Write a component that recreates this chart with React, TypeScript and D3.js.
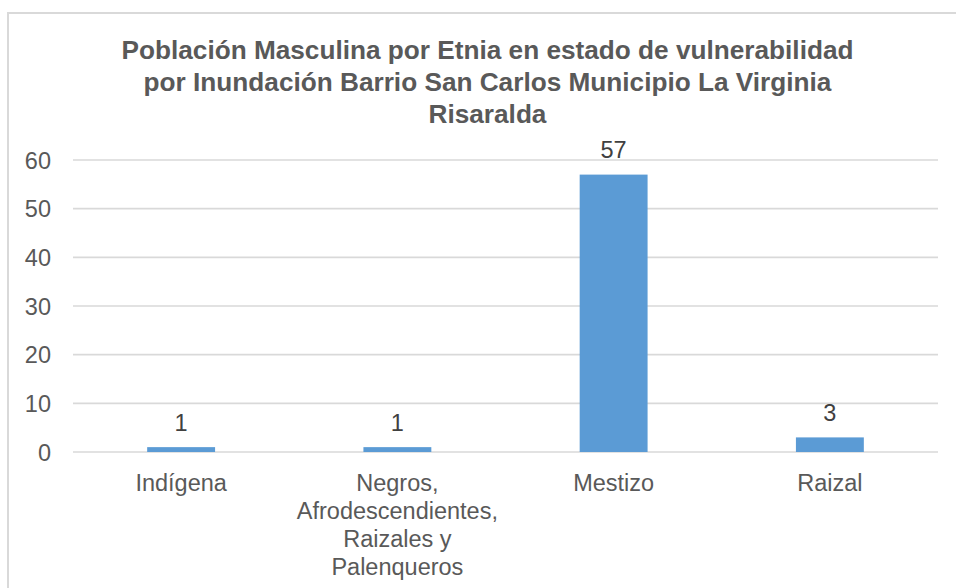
import React from "react";
import * as d3 from "d3";

const titleLines = [
  "Población Masculina por Etnia en estado de vulnerabilidad",
  "por Inundación Barrio San Carlos Municipio La Virginia",
  "Risaralda",
];
const categories = [
  "Indígena",
  "Negros, Afrodescendientes, Raizales y Palenqueros",
  "Mestizo",
  "Raizal",
];
const values = [1, 1, 57, 3];
const yTicks = [0, 10, 20, 30, 40, 50, 60];

const W = 956;
const H = 588;
const FONT = "'Liberation Sans', Arial, sans-serif";
const AXIS_SIZE = 23.5;
const TEXT = "#595959";

function wrap(text: string, maxW: number, font: string): string[] {
  const canvas = document.createElement("canvas");
  const ctx = canvas.getContext("2d")!;
  ctx.font = font;
  const words = text.split(" ");
  const lines: string[] = [];
  let cur = "";
  for (const w of words) {
    const test = cur ? cur + " " + w : w;
    if (ctx.measureText(test).width > maxW && cur) {
      lines.push(cur);
      cur = w;
    } else cur = test;
  }
  if (cur) lines.push(cur);
  return lines;
}

export default function App() {
  const left = 73;
  const right = 938;
  const top = 160;
  const bottom = 452;
  const x = d3.scaleBand<string>().domain(categories).range([left, right]).paddingInner(0.686).paddingOuter(0.343);
  const band = d3.scaleBand<string>().domain(categories).range([left, right]);
  const y = d3.scaleLinear().domain([0, 60]).range([bottom, top]);

  return (
    <svg width={W} height={H} style={{ position: "absolute", left: 0, top: 0 }}>
      <rect x={0} y={0} width={W} height={H} fill="#fff" />
      <rect x={8} y={13} width={W + 10} height={H + 10} fill="#fff" stroke="#d9d9d9" strokeWidth={2} />
      {titleLines.map((t, i) => (
        <text
          key={i}
          x={487.5}
          y={59.3 + i * 31.6}
          textAnchor="middle"
          fontFamily={FONT}
          fontWeight="bold"
          fontSize={26.2}
          fill={TEXT}
        >
          {t}
        </text>
      ))}
      {yTicks.map((t) => (
        <g key={t}>
          <line x1={left} x2={right} y1={y(t)} y2={y(t)} stroke="#d9d9d9" strokeWidth={1.6} />
          <text x={51} y={y(t) + 8.5} textAnchor="end" fontFamily={FONT} fontSize={AXIS_SIZE} fill={TEXT}>
            {t}
          </text>
        </g>
      ))}
      {categories.map((c, i) => {
        const bx = x(c)!;
        const bw = x.bandwidth();
        const cx = band(c)! + band.bandwidth() / 2;
        const lines = wrap(c, band.bandwidth() - 4, `${AXIS_SIZE}px Liberation Sans`);
        return (
          <g key={c}>
            <rect x={bx} y={y(values[i])} width={bw} height={bottom - y(values[i])} fill="#5b9bd5" />
            <text
              x={cx}
              y={y(values[i]) - 16.5}
              textAnchor="middle"
              fontFamily={FONT}
              fontSize={AXIS_SIZE}
              fill="#404040"
            >
              {values[i]}
            </text>
            {lines.map((l, j) => (
              <text
                key={j}
                x={cx}
                y={490.5 + j * 28.2}
                textAnchor="middle"
                fontFamily={FONT}
                fontSize={AXIS_SIZE}
                fill={TEXT}
              >
                {l}
              </text>
            ))}
          </g>
        );
      })}
    </svg>
  );
}
